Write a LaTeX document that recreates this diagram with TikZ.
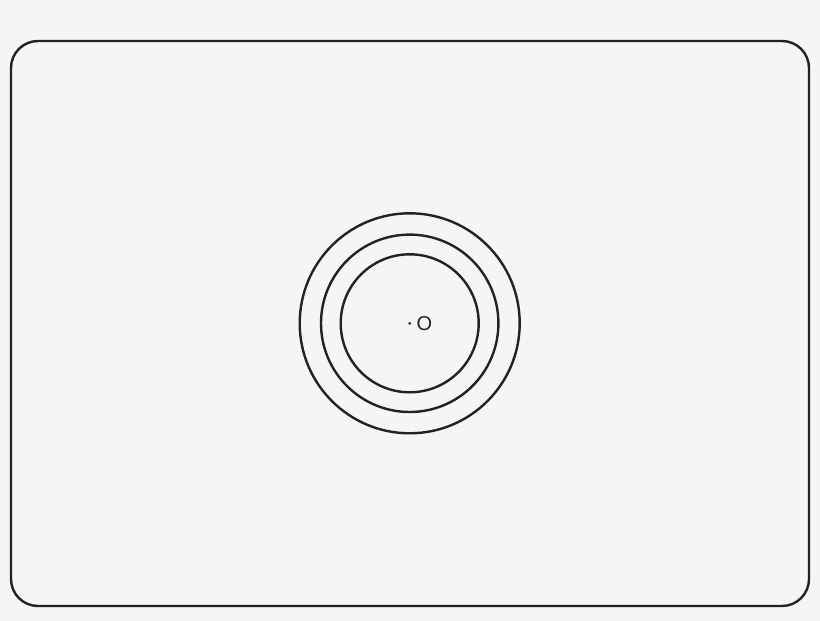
\documentclass[tikz,border=0pt]{standalone}
\usepackage{fontspec}
\setmainfont{Liberation Sans}
\definecolor{bg}{HTML}{F5F5F5}
\definecolor{ink}{HTML}{222222}
\begin{document}
\begin{tikzpicture}[x=1pt,y=-1pt,
  ring/.style={draw=ink,line width=2.4pt},
  frame/.style={draw=ink,line width=2.4pt,rounded corners=27pt}]
\fill[bg] (0,0) rectangle (820,621);
\useasboundingbox (0,0) rectangle (820,621);
\draw[frame] (11,41) rectangle (809,606);
\coordinate (O) at (409.7,323.3);
\draw[ring] (O) circle[radius=110];
\draw[ring] (O) circle[radius=88.7];
\draw[ring] (O) circle[radius=69];
\fill[ink] (O) circle[radius=1.5];
\node[font=\fontsize{20}{22}\selectfont,text=ink,anchor=center,inner sep=0pt] (lab) at (424.5,324) {O};
\end{tikzpicture}
\end{document}
